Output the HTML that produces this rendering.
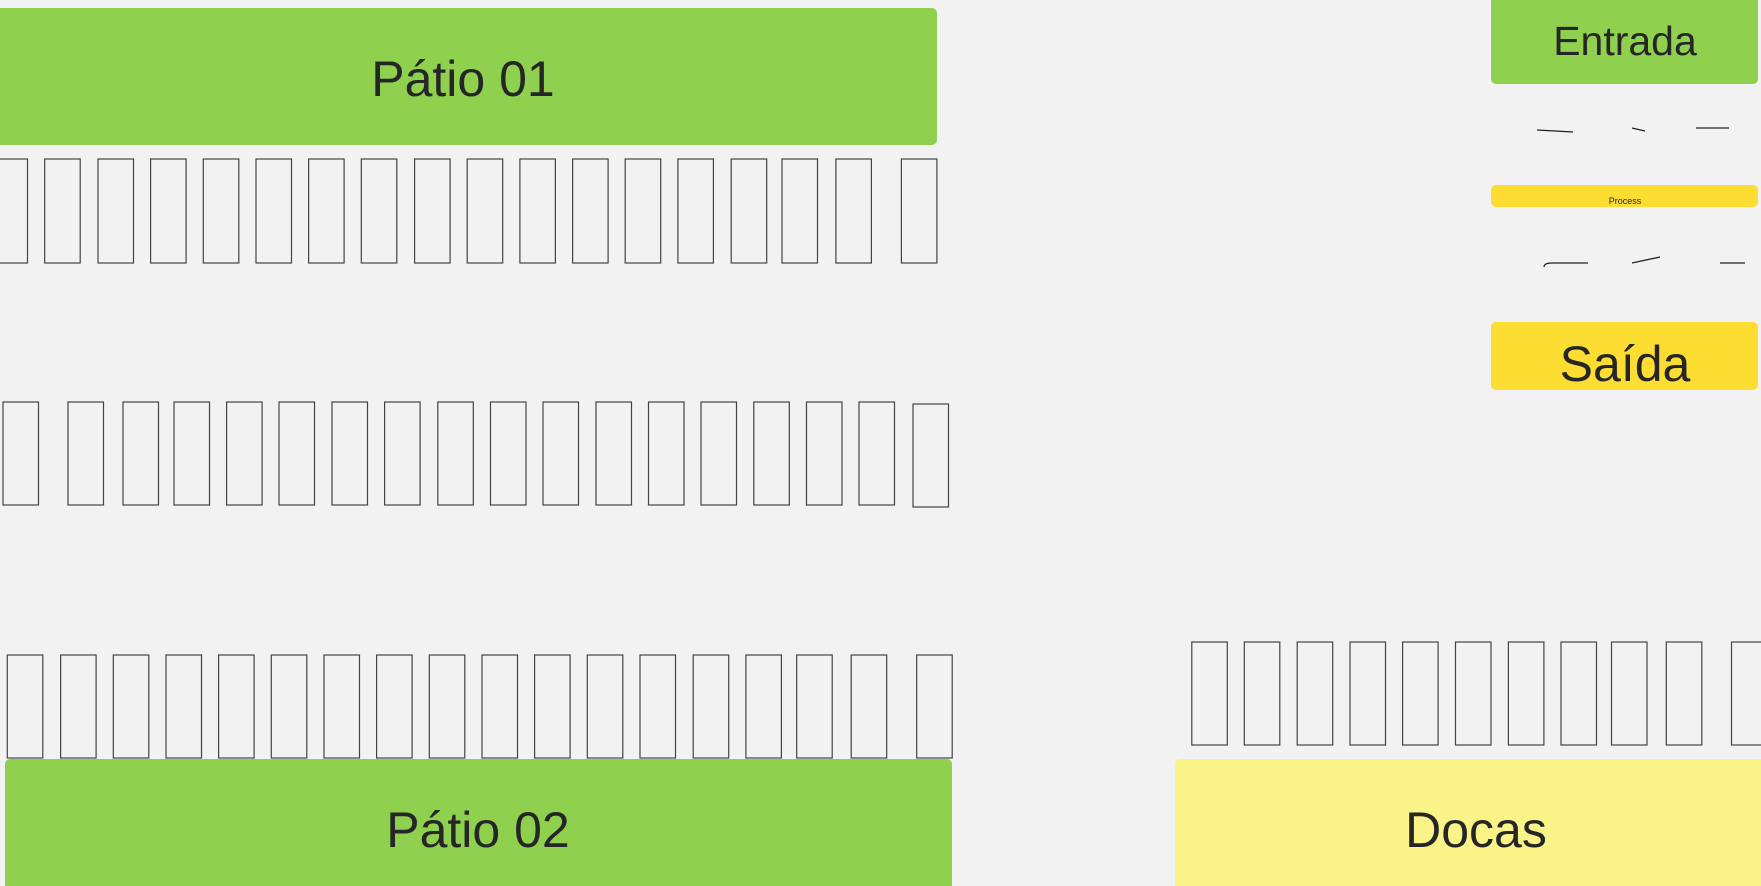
<!DOCTYPE html>
<html><head><meta charset="utf-8"><style>
html,body{margin:0;padding:0;background:#f2f2f2;}
svg{display:block;}
text{font-family:"Liberation Sans",sans-serif;fill:#262626;}
</style></head><body>
<svg id="s" width="1761" height="886" viewBox="0 0 1761 886">
<rect x="0" y="0" width="1761" height="886" fill="#f2f2f2"/>
<rect x="-6" y="8" width="943" height="137" rx="5" fill="#8fd14f"/>
<text x="463" y="96" font-size="50" text-anchor="middle">Pátio 01</text>
<rect x="5" y="759" width="947" height="140" rx="5" fill="#8fd14f"/>
<text x="478" y="847" font-size="50" text-anchor="middle">Pátio 02</text>
<rect x="1175" y="759" width="600" height="140" rx="5" fill="#faf387"/>
<text x="1476" y="847" font-size="50" text-anchor="middle">Docas</text>
<rect x="1491" y="-6" width="267" height="90" rx="5" fill="#8fd14f"/>
<text x="1625" y="55" font-size="41" text-anchor="middle">Entrada</text>
<rect x="1491" y="185" width="267" height="22" rx="5" fill="#fedd33"/>
<text x="1625" y="204" font-size="9" text-anchor="middle">Process</text>
<rect x="1491" y="322" width="267" height="68" rx="5" fill="#fedd33"/>
<text x="1625" y="381" font-size="50" text-anchor="middle">Saída</text>
<g stroke="#222" stroke-width="1.3" fill="none">
<path d="M1537 130 L1573 132"/><path d="M1632 128 L1645 131"/><path d="M1696 128 L1729 128"/>
<path d="M1544 267 Q1544 263 1552 263 L1588 263"/><path d="M1632 263 L1660 257"/><path d="M1720 263 L1745 263"/>
</g>
<g id="slots"></g>
</svg>
<script>
const row1X = [-8, 44.7, 98, 150.6, 203.3, 256, 308.6, 361.3, 414.6, 467.2, 519.9, 572.6, 625.2, 677.9, 731.2, 782, 835.9, 901.4];
const row2X = [3, 68, 123, 174, 226.6, 279, 332, 384.6, 437.8, 490.5, 543, 596, 648.5, 701, 753.8, 806.5, 859, 913];
const row3X = [7.3, 60.6, 113.3, 166, 218.6, 271.3, 324, 376.6, 429.3, 482, 534.6, 587.3, 640, 693.2, 745.9, 796.7, 851.2, 916.7];
const dockX = [1191.8, 1244.3, 1297.2, 1350, 1402.6, 1455.5, 1508.4, 1561, 1611.5, 1666.3, 1731.5];
const rows = [
  {xs: row1X, y: 159, h: 104, name: 'patio-01-slot'},
  {xs: row2X, y: 402, h: 103, name: 'row-2-slot'},
  {xs: row3X, y: 655, h: 103, name: 'patio-02-slot'},
  {xs: dockX, y: 642, h: 103, name: 'dock-slot'}
];
const g = document.getElementById('slots');
const NS = 'http://www.w3.org/2000/svg';
rows.forEach(r => {
  r.xs.forEach((x, i) => {
    const el = document.createElementNS(NS, 'rect');
    el.setAttribute('x', x);
    el.setAttribute('y', (r.name === 'row-2-slot' && i === r.xs.length - 1) ? r.y + 2 : r.y);
    el.setAttribute('width', 35.5);
    el.setAttribute('height', r.h);
    el.setAttribute('fill', 'none');
    el.setAttribute('stroke', '#444');
    el.setAttribute('stroke-width', '1.2');
    
    
    g.appendChild(el);
  });
});
</script>
</body></html>
